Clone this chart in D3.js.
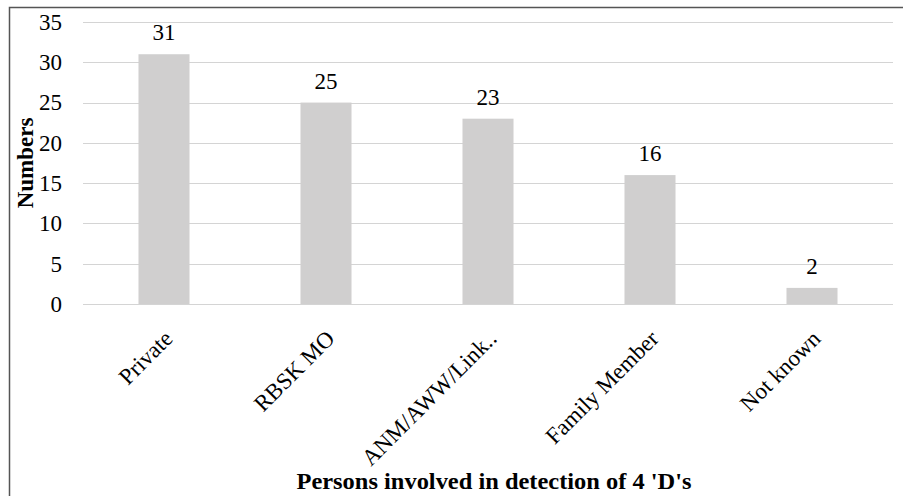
<!DOCTYPE html>
<html>
<head>
<meta charset="utf-8">
<script src="https://cdn.jsdelivr.net/npm/d3@7"></script>
<style>
  body { margin: 0; background: #fff; }
  svg { display: block; }
  text { font-family: "Liberation Serif", "Times New Roman", serif; fill: #000; }
</style>
</head>
<body>
<svg id="chart" width="903" height="496"></svg>
<script>
const categories = ["Private", "RBSK MO", "ANM/AWW/Link..", "Family Member", "Not known"];
const values = [31, 25, 23, 16, 2];
const yTicks = [0, 5, 10, 15, 20, 25, 30, 35];
const yTitle = "Numbers";
const xTitle = "Persons involved in detection of 4 'D's";

const svg = d3.select("#chart");
const W = 903, H = 496;
const m = { left: 83, right: 10, top: 22, bottom: 192 };
const x0 = m.left, x1 = W - m.right, y0 = H - m.bottom, y1 = m.top;
const FS = "23px";

// frame
svg.append("path")
  .attr("d", `M9.5,${H} L9.5,7.5 L${W},7.5`)
  .attr("fill", "none").attr("stroke", "#555").attr("stroke-width", 1.5);

const x = d3.scaleBand().domain(categories).range([x0, x1]).paddingInner(0.685).paddingOuter(0.3425);
const y = d3.scaleLinear().domain([0, 35]).range([y0, y1]);

// gridlines
svg.append("g").selectAll("line").data(yTicks).join("line")
  .attr("x1", x0).attr("x2", x1)
  .attr("y1", d => Math.round(y(d)) + 0.5).attr("y2", d => Math.round(y(d)) + 0.5)
  .attr("stroke", "#d4d4d4").attr("stroke-width", 1.2);

// y axis labels
const yAxis = d3.axisLeft(y).tickValues(yTicks).tickSize(0).tickPadding(0);
const gy = svg.append("g").attr("transform", `translate(${x0 - 21},0)`).call(yAxis);
gy.select(".domain").remove();
gy.selectAll("text").style("font-family", "Liberation Serif, serif").style("font-size", FS).attr("fill", "#000");

// bars
svg.append("g").selectAll("rect").data(values).join("rect")
  .attr("x", (d, i) => x(categories[i]))
  .attr("width", x.bandwidth())
  .attr("y", d => y(d))
  .attr("height", d => y(0) - y(d))
  .attr("fill", "#d0cfcf");

// data labels
svg.append("g").selectAll("text").data(values).join("text")
  .attr("x", (d, i) => x(categories[i]) + x.bandwidth() / 2)
  .attr("y", d => y(d) - 14)
  .attr("text-anchor", "middle")
  .style("font-size", FS)
  .text(d => d);

// x axis labels
const xAxis = d3.axisBottom(x).tickSize(0).tickPadding(0);
const gx = svg.append("g").attr("transform", `translate(0,${y0})`).call(xAxis);
gx.select(".domain").remove();
gx.selectAll("text")
  .style("font-family", "Liberation Serif, serif").style("font-size", FS).attr("fill", "#000")
  .attr("text-anchor", "end")
  .attr("dy", null).attr("y", 0)
  .attr("transform", "translate(10,36) rotate(-45)");

// axis titles
svg.append("text")
  .attr("transform", `translate(33,${(y0 + y1) / 2}) rotate(-90)`)
  .attr("text-anchor", "middle")
  .style("font-size", FS).style("font-weight", "bold")
  .text(yTitle);

svg.append("text")
  .attr("x", (x0 + x1) / 2 + 6).attr("y", 489)
  .attr("text-anchor", "middle")
  .attr("textLength", 395).attr("lengthAdjust", "spacingAndGlyphs")
  .style("font-size", FS).style("font-weight", "bold")
  .text(xTitle);
</script>
</body>
</html>
